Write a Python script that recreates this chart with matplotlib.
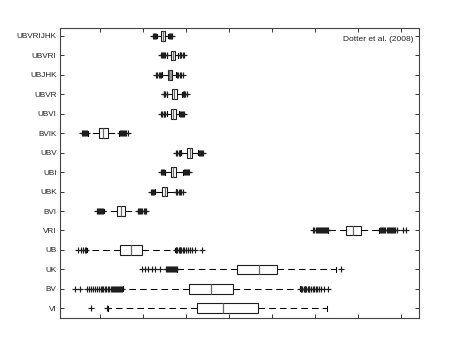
import matplotlib
matplotlib.use('Agg')
import matplotlib.pyplot as plt

plt.rcParams['font.family'] = ['Liberation Sans', 'DejaVu Sans']
plt.rcParams['lines.scale_dashes'] = False

# rows listed top to bottom
labels = ['UBVRIJHK', 'UBVRI', 'UBJHK', 'UBVR', 'UBVI', 'BVIK', 'UBV', 'UBI',
          'UBK', 'BVI', 'VRI', 'UB', 'UK', 'BV', 'VI']

whislo = [13.26, 15.65, 14.42, 15.58, 15.51, -2.72, 18.77, 15.12,
          12.79, 0.93, 53.09, -3.09, 17.98, 5.28, 1.93]
q1 = [14.12, 16.58, 15.81, 16.74, 16.51, -0.23, 20.30, 16.51,
      14.49, 3.88, 57.21, 4.65, 31.93, 20.63, 22.63]
med = [14.65, 16.98, 16.16, 17.21, 16.98, 0.70, 20.93, 17.09,
       15.12, 4.88, 58.91, 7.14, 36.91, 25.81, 28.53]
q3 = [15.05, 17.51, 16.81, 17.84, 17.60, 1.79, 21.47, 17.67,
      15.65, 5.88, 60.63, 9.84, 41.23, 31.00, 36.67]
whishi = [15.81, 18.21, 17.67, 19.07, 18.44, 4.49, 22.86, 19.37,
          17.67, 8.77, 64.95, 17.44, 54.81, 46.51, 52.72]

fliers = [
    [12.33, 12.56, 12.79, 13.02, 16.05, 16.28, 16.51, 16.74],
    [14.19, 14.42, 14.65, 15.00, 15.23, 15.47, 18.49, 18.72, 18.95, 19.19, 19.42],
    [13.02, 13.37, 13.72, 13.95, 14.19, 17.91, 18.14, 18.49, 18.84, 19.19],
    [14.77, 15.00, 15.23, 15.47, 19.19, 19.42, 19.65, 19.88, 20.12],
    [14.30, 14.53, 14.77, 15.00, 15.23, 18.60, 18.84, 19.07, 19.30, 19.53],
    [-4.19, -3.95, -3.72, -3.49, -3.26, -3.02, 4.65, 4.88, 5.12, 5.35, 5.58,
     5.81, 6.16, 6.40],
    [17.79, 18.02, 18.26, 18.49, 18.72, 23.02, 23.26, 23.49, 23.72, 23.95],
    [14.19, 14.42, 14.65, 14.88, 19.53, 19.77, 20.00, 20.23, 20.47, 20.70],
    [11.86, 12.09, 12.33, 12.56, 17.79, 18.02, 18.26, 18.49, 18.84, 19.19],
    [-0.70, -0.47, -0.23, 0.00, 0.23, 0.47, 0.70, 8.84, 9.07, 9.30, 9.53,
     9.77, 10.12, 10.47, 10.81],
    [49.53, 49.77, 50.23, 50.47, 50.70, 50.93, 51.16, 51.40, 51.63, 51.86,
     52.09, 52.33, 52.56, 52.79, 53.02, 65.12, 65.35, 65.58, 65.81, 66.05,
     66.28, 66.63, 66.98, 67.21, 67.44, 67.67, 67.91, 68.14, 68.37, 68.72,
     69.07, 70.35, 71.16],
    [-5.05, -4.42, -3.95, -3.60, -3.26, 17.56, 17.79, 18.02, 18.26, 18.49,
     18.72, 18.95, 19.30, 19.65, 20.00, 20.47, 20.93, 21.40, 22.09, 23.65],
    [9.70, 10.47, 11.28, 12.09, 12.79, 13.95, 15.35, 15.58, 15.81, 16.05,
     16.28, 16.51, 16.74, 16.98, 17.21, 17.44, 17.67, 17.91, 56.12],
    [-5.81, -4.65, -3.02, -2.56, -2.09, -1.63, -1.16, -0.70, -0.23, 0.12,
     0.47, 0.81, 1.16, 1.51, 1.86, 2.21, 2.56, 2.79, 3.02, 3.26, 3.49, 3.72,
     3.95, 4.19, 4.42, 4.65, 4.88, 5.12, 46.63, 46.86, 47.09, 47.33, 47.56,
     47.79, 48.02, 48.26, 48.49, 48.72, 49.07, 49.42, 49.77, 50.12, 50.47,
     50.93, 51.40, 52.09, 53.09],
    [-2.09, 1.56],
]

box_fill = ['white', 'white', '#a0a0a0', 'white', 'white', 'white', 'white',
            'white', 'white', 'white', 'white', 'white', 'white', 'white', 'white']

n = len(labels)
positions = list(range(n, 0, -1))

stats = []
for i in range(n):
    stats.append({'label': labels[i], 'whislo': whislo[i], 'q1': q1[i],
                  'med': med[i], 'q3': q3[i], 'whishi': whishi[i],
                  'fliers': fliers[i]})

fig = plt.figure(figsize=(4.63, 3.58), dpi=100)
ax = fig.add_axes([0.1296, 0.1117, 0.7754, 0.8101])

dash = (0, (4.8, 2.9))
bp = ax.bxp(stats, positions=positions, vert=False, widths=0.5,
            capwidths=0.25, patch_artist=True,
            boxprops=dict(edgecolor='#1e1e1e', linewidth=0.8),
            medianprops=dict(color='#6a6a6a', linewidth=0.9),
            whiskerprops=dict(color='black', linewidth=0.75, linestyle=dash),
            capprops=dict(color='black', linewidth=0.75),
            flierprops=dict(marker='+', markersize=4, markeredgewidth=0.85,
                            markeredgecolor='#1e1e1e', linestyle='none'))
for patch, fc in zip(bp['boxes'], box_fill):
    patch.set_facecolor(fc)

ax.set_xlim(-9.3, 74.19)
ax.set_ylim(0.5, 15.41)
ax.set_xticks(range(0, 80, 10))
ax.set_xticklabels([])
ax.set_yticks(positions)
ax.set_yticklabels(labels, fontsize=5.9)
ax.tick_params(direction='in', length=3, width=0.7, colors='#333333',
               top=True, right=True, pad=2.5)
for label in ax.get_yticklabels():
    label.set_color('#222222')
for sp in ax.spines.values():
    sp.set_color('#444444')
    sp.set_linewidth(0.8)

ax.text(0.985, 0.973, 'Dotter et al. (2008)', transform=ax.transAxes,
        ha='right', va='top', fontsize=6.0, color='#222222')

plt.savefig('out.png', dpi=100)
